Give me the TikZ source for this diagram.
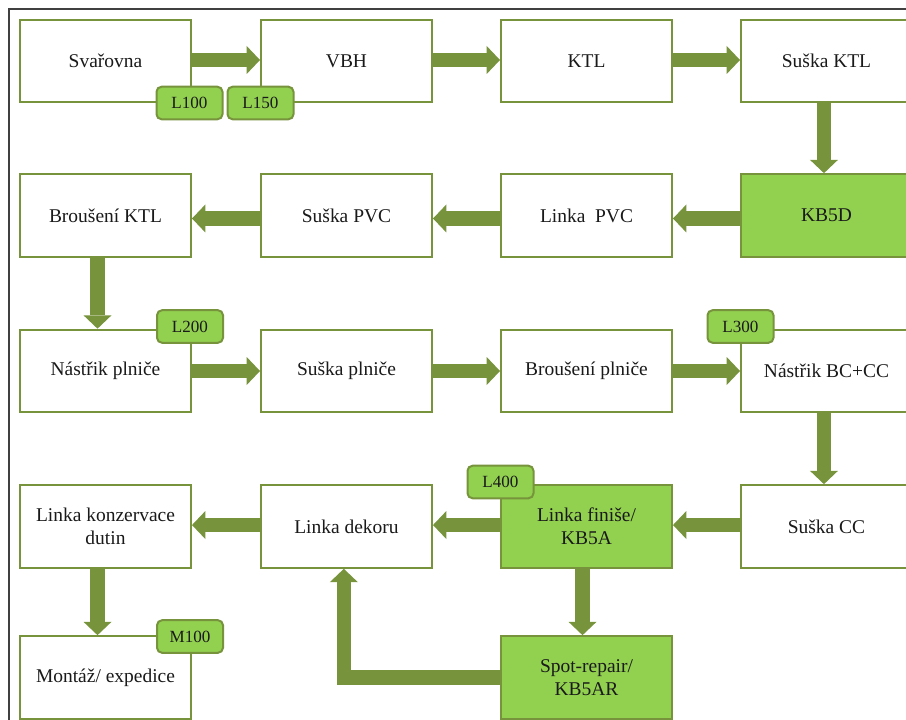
\documentclass[tikz,border=0pt]{standalone}
\usepackage{fontspec}
\setmainfont{Liberation Serif}
\usetikzlibrary{arrows.meta}
\definecolor{oliveline}{HTML}{77933C}
\definecolor{lgreen}{HTML}{92D050}
\definecolor{textc}{HTML}{1A1A1A}
\definecolor{framec}{HTML}{404040}
\begin{document}
\begin{tikzpicture}[x=0.75pt,y=-0.75pt,
 box/.style={draw=oliveline, line width=1.5pt, fill=white, minimum width=128.25pt, minimum height=62pt, inner sep=2pt, align=center, font=\fontsize{14.6}{17.5}\selectfont, text=textc},
 gbox/.style={box, fill=lgreen},
 tag/.style={draw=oliveline, line width=1.5pt, fill=lgreen, rounded corners=3.75pt, minimum width=49.5pt, minimum height=24.4pt, inner sep=0pt, font=\fontsize{12.8}{15}\selectfont, text=textc},
 flow/.style={draw=oliveline, line width=11pt, -{Triangle[width=21pt,length=10pt,line width=0pt]}}]
\useasboundingbox (0,0) rectangle (906,720);
\clip (0,0) rectangle (906,720);
\fill[white] (0,0) rectangle (906,720);
\draw[framec, line width=1.5pt] (9,725) -- (9,9) -- (910,9);
% row 1
\node[box] (svar) at (105.5,61) {Svařovna};
\node[box] (vbh) at (346.5,61) {VBH};
\node[box] (ktl) at (586.5,61) {KTL};
\node[box] (suktl) at (826.5,61) {Suška KTL};
% row 2
\node[box] (brktl) at (105.5,215.5) {Broušení KTL};
\node[box] (supvc) at (346.5,215.5) {Suška PVC};
\node[box] (lpvc) at (586.5,215.5) {Linka\ \ PVC};
\node[gbox] (kb5d) at (826.5,215.5) {KB5D};
% row 3
\node[box] (nplnice) at (105.5,371) {Nástřik plniče};
\node[box] (suplnice) at (346.5,371) {Suška plniče};
\node[box] (brplnice) at (586.5,371) {Broušení plniče};
\node[box] (nbccc) at (826.5,371) {Nástřik BC+CC};
% row 4
\node[box] (lkd) at (105.5,526.5) {Linka konzervace\\dutin};
\node[box] (ldek) at (346.5,526.5) {Linka dekoru};
\node[gbox] (lfin) at (586.5,526.5) {Linka finiše/\\KB5A};
\node[box] (succ) at (826.5,526.5) {Suška CC};
% row 5
\node[box] (mont) at (105.5,677.5) {Montáž/ expedice};
\node[gbox] (spot) at (586.5,677.5) {Spot-repair/\\KB5AR};
% arrows
\draw[flow] ([yshift=0.75pt]svar.east) -- ([yshift=0.75pt]vbh.west);
\draw[flow] ([yshift=0.75pt]vbh.east) -- ([yshift=0.75pt]ktl.west);
\draw[flow] ([yshift=0.75pt]ktl.east) -- ([yshift=0.75pt]suktl.west);
\draw[flow] ([xshift=-1.9pt]suktl.south) -- ([xshift=-1.9pt]kb5d.north);
\draw[flow] ([yshift=-2.25pt]kb5d.west) -- ([yshift=-2.25pt]lpvc.east);
\draw[flow] ([yshift=-2.25pt]lpvc.west) -- ([yshift=-2.25pt]supvc.east);
\draw[flow] ([yshift=-2.25pt]supvc.west) -- ([yshift=-2.25pt]brktl.east);
\draw[flow] ([xshift=-6pt]brktl.south) -- ([xshift=-6pt]nplnice.north);
\draw[flow] (nplnice.east) -- (suplnice.west);
\draw[flow] (suplnice.east) -- (brplnice.west);
\draw[flow] (brplnice.east) -- (nbccc.west);
\draw[flow] ([xshift=-1.9pt]nbccc.south) -- ([xshift=-1.9pt]succ.north);
\draw[flow] ([yshift=1.1pt]succ.west) -- ([yshift=1.1pt]lfin.east);
\draw[flow] ([yshift=1.1pt]lfin.west) -- ([yshift=1.1pt]ldek.east);
\draw[flow] ([yshift=1.1pt]ldek.west) -- ([yshift=1.1pt]lkd.east);
\draw[flow] ([xshift=-3pt]lfin.south) -- ([xshift=-3pt]spot.north);
\draw[flow] ([xshift=-6pt]lkd.south) -- ([xshift=-6pt]mont.north);
\draw[flow] (spot.west) -| ([xshift=-2pt]ldek.south);
% tags
\node[tag] (l100) at (189.5,103) {L100};
\node[tag] (l150) at (260.5,103) {L150};
\node[tag] (l200) at (190,326.5) {L200};
\node[tag] (l300) at (740.5,326.5) {L300};
\node[tag] (l400) at (500.5,482) {L400};
\node[tag] (m100) at (190,636.5) {M100};
\end{tikzpicture}
\end{document}
